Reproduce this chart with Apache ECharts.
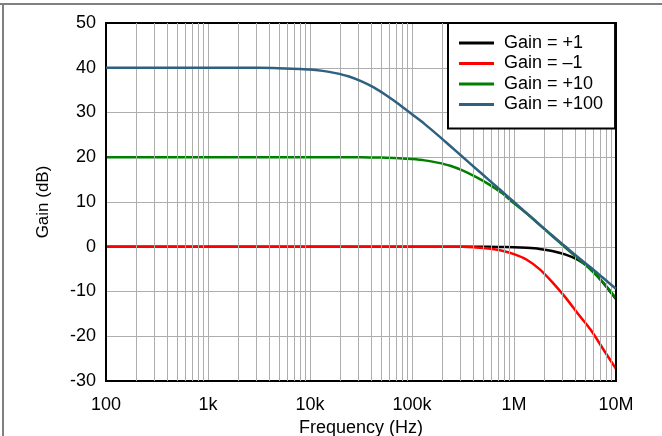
<!DOCTYPE html>
<html>
<head>
<meta charset="utf-8">
<script src="https://cdn.jsdelivr.net/npm/echarts@6/dist/echarts.min.js"></script>
<style>
  html, body { margin: 0; padding: 0; background: #fff; }
  #chart { width: 662px; height: 436px; }
</style>
</head>
<body>
<div id="chart"></div>
<script>
// Closed-loop frequency response, gain in dB versus frequency in Hz
const freqHz = [100, 1000, 3162,
                10000, 13335, 17783, 23714, 31623, 42170, 56234, 74989,
                100000, 133352, 177828, 237137, 316228, 421697, 562341, 749894,
                1000000, 1333521, 1778279, 2371374, 3162278, 4216965, 5623413, 7498942,
                10000000];

const gainPlus1   = [0, 0, 0,
                     0, 0, 0, 0, 0, 0, 0, 0,
                     0, 0, 0, 0, 0, 0, 0, -0.05,
                     -0.1, -0.25, -0.5, -0.95, -1.7, -2.9, -4.9, -8.1,
                     -11.7];
const gainMinus1  = [0, 0, 0,
                     0, 0, 0, 0, 0, 0, 0, 0,
                     0, 0, 0, 0, 0, -0.15, -0.4, -0.85,
                     -1.65, -2.9, -5.0, -7.9, -11.2, -14.9, -18.5, -22.9,
                     -27.3];
const gainPlus10  = [20, 20, 20,
                     20, 20, 20, 20, 20, 19.95, 19.9, 19.8,
                     19.6, 19.3, 18.8, 18.1, 17.0, 15.6, 14.0, 12.1,
                     9.7, 7.4, 4.9, 2.4, -0.1, -2.6, -5.1, -8.0,
                     -11.5];
const gainPlus100 = [40, 40, 40,
                     39.6, 39.3, 38.8, 38.1, 37.0, 35.6, 33.8, 31.8,
                     29.6, 27.4, 25.0, 22.5, 20.0, 17.5, 15.0, 12.5,
                     10.0, 7.5, 5.0, 2.5, 0.1, -2.3, -4.6, -7.0,
                     -9.4];

const seriesNames  = ['Gain = +1', 'Gain = \u20131', 'Gain = +10', 'Gain = +100'];
const seriesColors = ['#000000', '#ff0000', '#008000', '#2e6080'];

const xTickValues = [100, 1e3, 1e4, 1e5, 1e6, 1e7];
const xTickLabels = ['100', '1k', '10k', '100k', '1M', '10M'];

// minor vertical grid lines at 2..9 within each decade
const minorLines = [];
for (let d = 0; d < xTickValues.length - 1; d++) {
  for (let m = 2; m <= 9; m++) minorLines.push({ xAxis: xTickValues[d] * m });
}

const pairs = (ys) => freqHz.map((f, i) => [f, ys[i]]);
const curves = [gainPlus1, gainMinus1, gainPlus10, gainPlus100];

const FONT = 'Liberation Sans, Arial, sans-serif';
const FS = 18;
const gridColor = '#aeaeae';

const chart = echarts.init(document.getElementById('chart'), null, { renderer: 'canvas' });

const option = {
  animation: false,
  backgroundColor: '#ffffff',
  textStyle: { fontFamily: FONT },
  grid: {
    left: 106, right: 46, top: 23, bottom: 55,
    containLabel: false, outerBoundsMode: 'none',
    show: true, borderColor: '#000', borderWidth: 2, backgroundColor: 'transparent', z: 5
  },
  xAxis: {
    type: 'log', logBase: 10, min: 100, max: 1e7,
    name: 'Frequency (Hz)', nameLocation: 'middle', nameGap: 33,
    nameTextStyle: { fontSize: FS, color: '#000', fontFamily: FONT },
    axisLine: { show: false }, axisTick: { show: false },
    axisLabel: {
      fontSize: FS, color: '#000', margin: 15, fontFamily: FONT,
      formatter: (v) => {
        const i = xTickValues.findIndex(t => Math.abs(Math.log10(t) - Math.log10(v)) < 1e-6);
        return i >= 0 ? xTickLabels[i] : '';
      }
    },
    splitLine: { show: true, lineStyle: { color: gridColor, width: 1 } }
  },
  yAxis: {
    type: 'value', min: -30, max: 50, interval: 10,
    name: 'Gain (dB)', nameLocation: 'middle', nameGap: 54, nameRotate: 90,
    nameTextStyle: { fontSize: FS - 1, color: '#000', fontFamily: FONT },
    axisLine: { show: false }, axisTick: { show: false },
    axisLabel: { fontSize: FS, color: '#000', margin: 10, fontFamily: FONT },
    splitLine: { show: true, lineStyle: { color: gridColor, width: 1 } }
  },
  legend: {
    orient: 'vertical', left: 448, top: 23,
    data: seriesNames,
    icon: 'rect', itemWidth: 35, itemHeight: 3, itemGap: 2.5,
    padding: [11, 12, 15, 11],
    backgroundColor: '#fff', borderColor: '#000', borderWidth: 2, borderRadius: 0,
    textStyle: { fontSize: FS, color: '#000', fontFamily: FONT, padding: [0, 0, 0, 5] },
    z: 10
  },
  graphic: [
    { type: 'line', shape: { x1: 0, y1: 4, x2: 662, y2: 4 }, style: { stroke: '#808080', lineWidth: 2 }, silent: true },
    { type: 'line', shape: { x1: 3, y1: 4, x2: 3, y2: 436 }, style: { stroke: '#808080', lineWidth: 2 }, silent: true }
  ],
  series: [
    {
      name: 'minor-grid', type: 'line', data: [], z: 1, silent: true,
      markLine: {
        silent: true, symbol: ['none', 'none'], label: { show: false },
        lineStyle: { color: gridColor, width: 1, type: 'solid' },
        emphasis: { disabled: true },
        data: minorLines
      }
    }
  ].concat(curves.map((ys, i) => ({
    name: seriesNames[i], type: 'line', data: pairs(ys),
    showSymbol: false, smooth: 0.3, z: 2 + i,
    lineStyle: { color: seriesColors[i], width: 2.5 },
    itemStyle: { color: seriesColors[i] }
  })))
};

chart.setOption(option);
</script>
</body>
</html>
